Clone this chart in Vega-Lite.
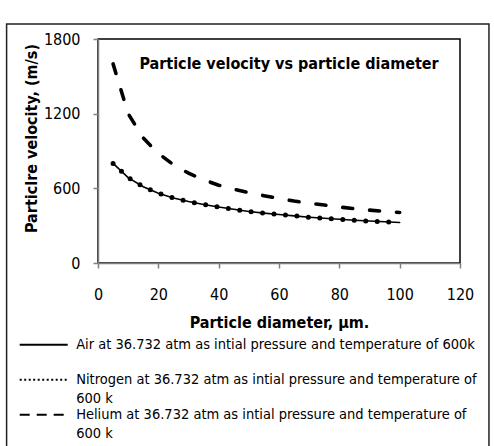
{
  "$schema": "https://vega.github.io/schema/vega-lite/v6.json",
  "width": 362,
  "height": 224,
  "autosize": {"type": "none"},
  "padding": {"left": 98, "top": 39, "right": 34, "bottom": 183},
  "background": "white",
  "config": {
    "font": "DejaVu Sans Condensed",
    "view": {"stroke": "black", "strokeWidth": 1.5}
  },
  "title": {
    "text": "Particle velocity vs particle diameter",
    "font": "DejaVu Sans Condensed",
    "fontSize": 16,
    "fontWeight": "bold",
    "color": "black",
    "frame": "group",
    "anchor": "middle",
    "baseline": "alphabetic",
    "offset": 0,
    "dx": 10,
    "dy": 62
  },
  "data": {
    "values": [
      {"series": "Air", "d": 5, "v": 800}, {"series": "Air", "d": 10, "v": 686}, {"series": "Air", "d": 15, "v": 613}, {"series": "Air", "d": 20, "v": 561},
      {"series": "Air", "d": 25, "v": 523}, {"series": "Air", "d": 30, "v": 494}, {"series": "Air", "d": 35, "v": 470}, {"series": "Air", "d": 40, "v": 450},
      {"series": "Air", "d": 45, "v": 432}, {"series": "Air", "d": 50, "v": 414}, {"series": "Air", "d": 55, "v": 401}, {"series": "Air", "d": 60, "v": 390},
      {"series": "Air", "d": 65, "v": 379}, {"series": "Air", "d": 70, "v": 368}, {"series": "Air", "d": 75, "v": 359}, {"series": "Air", "d": 80, "v": 351},
      {"series": "Air", "d": 85, "v": 343}, {"series": "Air", "d": 90, "v": 337}, {"series": "Air", "d": 95, "v": 331}, {"series": "Air", "d": 100, "v": 325},
      {"series": "Nitrogen", "d": 5, "v": 800}, {"series": "Nitrogen", "d": 10, "v": 686}, {"series": "Nitrogen", "d": 15, "v": 613}, {"series": "Nitrogen", "d": 20, "v": 561},
      {"series": "Nitrogen", "d": 25, "v": 523}, {"series": "Nitrogen", "d": 30, "v": 494}, {"series": "Nitrogen", "d": 35, "v": 470}, {"series": "Nitrogen", "d": 40, "v": 450},
      {"series": "Nitrogen", "d": 45, "v": 432}, {"series": "Nitrogen", "d": 50, "v": 414}, {"series": "Nitrogen", "d": 55, "v": 401}, {"series": "Nitrogen", "d": 60, "v": 390},
      {"series": "Nitrogen", "d": 65, "v": 379}, {"series": "Nitrogen", "d": 70, "v": 368}, {"series": "Nitrogen", "d": 75, "v": 359}, {"series": "Nitrogen", "d": 80, "v": 351},
      {"series": "Nitrogen", "d": 85, "v": 343}, {"series": "Nitrogen", "d": 90, "v": 337}, {"series": "Nitrogen", "d": 95, "v": 331}, {"series": "Nitrogen", "d": 100, "v": 325},
      {"series": "Helium", "d": 5, "v": 1600}, {"series": "Helium", "d": 10, "v": 1200}, {"series": "Helium", "d": 15, "v": 1005}, {"series": "Helium", "d": 20, "v": 880},
      {"series": "Helium", "d": 25, "v": 790}, {"series": "Helium", "d": 30, "v": 722}, {"series": "Helium", "d": 35, "v": 669}, {"series": "Helium", "d": 40, "v": 625},
      {"series": "Helium", "d": 45, "v": 593}, {"series": "Helium", "d": 50, "v": 565}, {"series": "Helium", "d": 55, "v": 541}, {"series": "Helium", "d": 60, "v": 519},
      {"series": "Helium", "d": 65, "v": 498}, {"series": "Helium", "d": 70, "v": 481}, {"series": "Helium", "d": 75, "v": 466}, {"series": "Helium", "d": 80, "v": 450},
      {"series": "Helium", "d": 85, "v": 436}, {"series": "Helium", "d": 90, "v": 425}, {"series": "Helium", "d": 95, "v": 415}, {"series": "Helium", "d": 100, "v": 406}
    ]
  },
  "layer": [
    {
      "data": {"values": [{}]},
      "mark": {"type": "rect", "fill": null, "stroke": "#222222", "strokeWidth": 1.5},
      "encoding": {
        "x": {"datum": -30.3, "type": "quantitative"},
        "x2": {"datum": 129.6},
        "y": {"datum": 1920, "type": "quantitative"},
        "y2": {"datum": -1510}
      }
    },
    {
      "encoding": {
        "x": {
          "field": "d",
          "type": "quantitative",
          "scale": {"domain": [0, 120], "nice": false, "zero": false},
          "axis": {
            "values": [0, 20, 40, 60, 80, 100, 120],
            "grid": false,
            "domainColor": "#808080",
            "domainWidth": 1.5,
            "tickColor": "#808080",
            "tickWidth": 1.5,
            "tickSize": 5,
            "labelPadding": 18,
            "labelFont": "DejaVu Sans Condensed",
            "labelFontSize": 16,
            "labelColor": "black",
            "labelFlush": false,
            "title": "Particle diameter, µm.",
            "titleFont": "DejaVu Sans Condensed",
            "titleFontSize": 16,
            "titleFontWeight": "bold",
            "titleColor": "black",
            "titleBaseline": "alphabetic",
            "titleAlign": "center",
            "titleX": 181,
            "titleY": 64
          }
        },
        "y": {
          "field": "v",
          "type": "quantitative",
          "scale": {"domain": [0, 1800], "nice": false},
          "axis": {
            "values": [0, 600, 1200, 1800],
            "format": "d",
            "grid": false,
            "domainColor": "#808080",
            "domainWidth": 1.5,
            "tickColor": "#808080",
            "tickWidth": 1.5,
            "tickSize": 5,
            "labelPadding": 13,
            "labelFont": "DejaVu Sans Condensed",
            "labelFontSize": 16,
            "labelColor": "black",
            "labelFlush": false,
            "title": "Particlre velocity, (m/s)",
            "titleFont": "DejaVu Sans Condensed",
            "titleFontSize": 16,
            "titleFontWeight": "bold",
            "titleColor": "black",
            "titleAngle": 270,
            "titleBaseline": "alphabetic",
            "titleAlign": "center",
            "titleX": -61.5,
            "titleY": 99
          }
        }
      },
      "layer": [
        {
          "transform": [{"filter": "datum.series == 'Air'"}],
          "mark": {"type": "line", "color": "black", "strokeWidth": 1.6, "strokeCap": "round"}
        },
        {
          "transform": [{"filter": "datum.series == 'Nitrogen'"}],
          "mark": {"type": "line", "color": "black", "strokeWidth": 5, "strokeCap": "round", "strokeDash": [0, 11.5]}
        },
        {
          "transform": [{"filter": "datum.series == 'Helium'"}],
          "mark": {"type": "line", "color": "black", "strokeWidth": 3.6, "strokeCap": "round", "strokeDash": [10, 17]}
        },
        {
          "transform": [{"filter": "false"}],
          "mark": {"type": "line", "color": "black", "strokeWidth": 1.8},
          "encoding": {
            "strokeDash": {
              "field": "series",
              "type": "nominal",
              "scale": {
                "domain": ["Air", "Nitrogen", "Helium"],
                "range": [[1, 0], [2, 2.5], [10, 7]]
              },
              "legend": {
                "orient": "none",
                "legendX": -79,
                "legendY": 298.5,
                "direction": "vertical",
                "title": null,
                "padding": 0,
                "symbolType": "M-4.8,0H4.8",
                "symbolSize": 100,
                "symbolStrokeWidth": 1.8,
                "symbolOffset": 17.45,
                "symbolStrokeColor": "black",
                "labelOffset": 25.2,
                "labelFont": "DejaVu Sans Condensed",
                "labelFontSize": 14.5,
                "labelColor": "black",
                "labelLimit": 600,
                "gridAlign": "all",
                "rowPadding": 0,
                "labelExpr": "datum.label == 'Air' ? 'Air at 36.732 atm as intial pressure and temperature of 600k' : [datum.label + ' at 36.732 atm as intial pressure and temperature of', '600 k']",
                "encode": {
                  "symbols": {
                    "update": {
                      "stroke": {"value": "black"},
                      "fill": {"value": "transparent"},
                      "strokeCap": {"value": "butt"}
                    }
                  },
                  "labels": {
                    "update": {"lineHeight": {"value": 19.5}}
                  }
                }
              }
            }
          }
        }
      ]
    }
  ]
}
